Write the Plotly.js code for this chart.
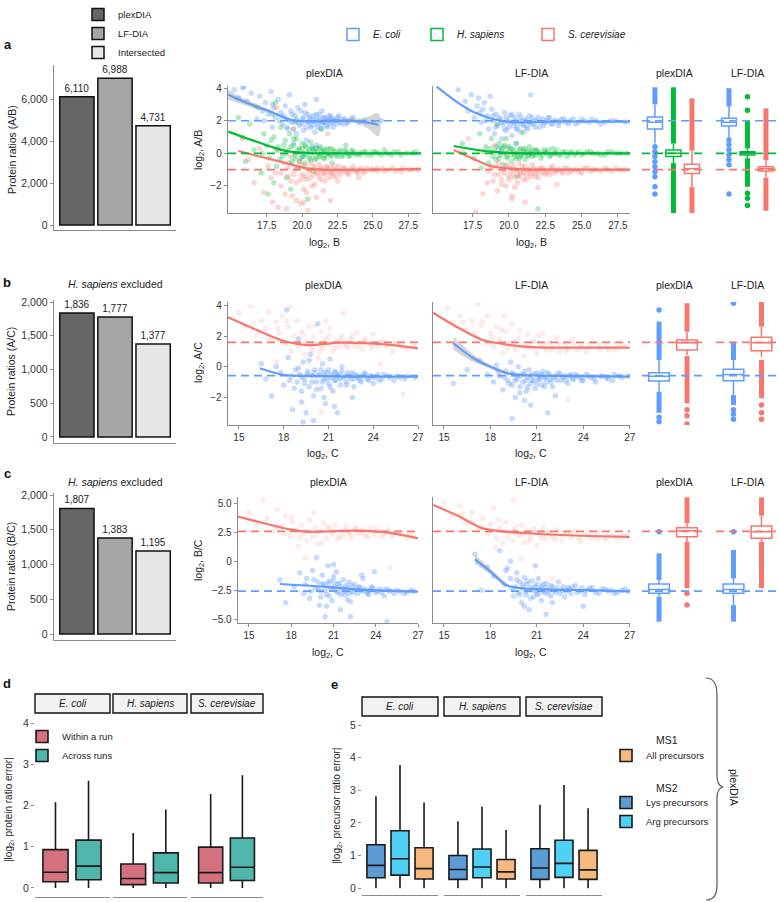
<!DOCTYPE html>
<html><head><meta charset="utf-8">
<script src="https://cdn.plot.ly/plotly-3.0.1.min.js"></script>
<style>html,body{margin:0;padding:0;background:#fff}#plot{width:779px;height:902px}</style>
</head><body><div id="plot"></div><script>
const W=779,H=902;
const X=px=>px/W, Y=py=>1-py/H;
const BLUE='#619CFF', GREEN='#00BA38', RED='#F8766D';

// ---------- bar data ----------
const barGroups=['plexDIA','LF-DIA','Intersected'];
const barColors=['#666666','#a6a6a6','#e6e6e6'];
const barsAB=[6110,6988,4731];
const barsAC=[1836,1777,1377];
const barsBC=[1807,1383,1195];

// ---------- scatter clouds [log2 intensity, log2 ratio] ----------
const aPlexEcoli=[[15.2,3.9],[15.5,3.4],[15.8,4.0],[16.1,3.2],[16.4,3.7],[16.7,2.9],[17.0,3.5],[17.2,2.6],[17.4,3.1],[17.6,2.4],[17.8,3.8],[18.0,2.8],[18.1,2.2],[18.3,3.3],[18.5,2.5],[18.6,1.8],[18.8,2.9],[18.9,2.1],[19.0,1.5],[19.2,2.6],[19.3,1.9],[19.5,2.3],[19.6,1.2],[19.7,2.8],[19.8,1.7],[20.0,2.1],[20.1,1.4],[20.2,2.5],[20.3,0.8],[20.4,1.9],[20.5,2.2],[20.6,1.6],[20.7,0.3],[20.8,2.0],[20.9,1.3],[21.0,2.4],[21.1,1.8],[21.2,2.1],[21.3,1.5],[21.4,2.6],[21.5,1.9],[21.6,2.2],[21.7,1.7],[21.8,2.0],[21.9,2.3],[22.0,1.8],[22.1,2.1],[22.2,1.6],[22.3,2.0],[22.5,2.2],[22.7,1.9],[22.9,2.1],[23.1,1.8],[23.3,2.0],[23.6,2.2],[24.0,1.9],[24.4,2.0],[25.0,1.9],[25.6,2.0],[19.4,0.6],[20.0,-0.2],[21.0,0.5],[16.8,2.1],[17.9,1.6],[19.1,3.6],[20.2,3.0],[21.0,3.3],[15.9,4.1]];
const aPlexEcoli2=[[18.7,2.3],[18.9,1.6],[19.1,2.0],[19.3,2.4],[19.4,1.5],[19.6,2.1],[19.7,1.9],[19.9,2.6],[20.0,1.8],[20.1,2.2],[20.3,1.6],[20.4,2.4],[20.5,1.9],[20.6,2.1],[20.7,1.7],[20.8,2.3],[20.9,1.9],[21.0,2.1],[21.1,1.6],[21.2,2.4],[21.3,2.0],[21.4,1.8],[21.5,2.2],[21.6,1.9],[21.7,2.1],[21.8,1.6],[21.9,2.0],[22.0,2.3],[22.1,1.9],[22.2,2.1],[22.4,1.8],[22.5,2.0],[22.6,2.3],[22.8,1.8],[23.0,2.1],[23.2,1.9],[23.5,2.1],[17.3,2.0],[17.9,3.0],[18.4,2.0]];
const aPlexHsap=[[15.5,2.2],[15.8,1.0],[16.0,-0.5],[16.3,1.8],[16.6,0.2],[16.9,2.8],[17.1,-1.2],[17.3,1.2],[17.5,0.5],[17.7,-0.3],[17.9,2.4],[18.0,1.0],[18.2,-0.8],[18.3,0.4],[18.5,1.6],[18.6,-0.2],[18.8,0.8],[18.9,-1.5],[19.0,0.2],[19.1,1.2],[19.3,-0.5],[19.4,0.5],[19.5,-0.1],[19.6,0.9],[19.7,-0.9],[19.8,0.3],[19.9,-0.3],[20.0,0.6],[20.1,0.0],[20.2,-0.6],[20.3,0.4],[20.4,0.1],[20.5,-0.3],[20.6,0.7],[20.7,-0.1],[20.8,0.2],[20.9,-0.4],[21.0,0.3],[21.1,0.0],[21.2,-0.2],[21.3,0.4],[21.4,0.1],[21.5,-0.3],[21.6,0.2],[21.7,-0.1],[21.8,0.3],[21.9,0.0],[22.0,-0.2],[22.2,0.2],[22.4,-0.1],[22.6,0.1],[22.8,-0.2],[23.0,0.2],[23.2,0.0],[23.4,-0.1],[23.6,0.1],[23.8,-0.1],[24.0,0.0],[24.3,0.1],[24.6,-0.1],[25.0,0.1],[25.4,0.0],[25.8,0.2],[26.3,-0.1],[26.8,0.1],[27.4,0.0],[28.0,0.1],[19.2,-2.2],[20.4,-2.8],[17.6,-2.5],[21.4,1.5],[18.1,3.1],[22.1,-0.6],[23.1,0.5]];
const aPlexHsap2=[[17.8,0.8],[18.2,0.2],[18.4,-0.4],[18.7,0.5],[18.9,0.0],[19.1,-0.6],[19.2,0.4],[19.4,0.9],[19.5,-0.3],[19.7,0.2],[19.8,-0.5],[20.0,0.3],[20.1,-0.2],[20.2,0.5],[20.3,-0.1],[20.5,0.2],[20.6,-0.4],[20.7,0.4],[20.9,0.1],[21.0,-0.3],[21.2,0.3],[21.3,-0.1],[21.5,0.2],[21.6,-0.3],[21.8,0.0],[22.0,0.3],[22.1,-0.1],[22.3,0.1],[22.5,-0.2],[22.7,0.2],[22.9,-0.1],[23.1,0.1],[23.3,-0.2],[23.5,0.2],[23.7,0.0],[24.1,-0.1],[24.5,0.1],[24.9,-0.1],[25.2,0.1],[25.6,-0.1],[26.0,0.0],[26.5,0.1],[27.0,-0.1],[27.8,0.0],[18.0,-1.8],[19.5,1.9],[20.8,-1.1],[17.2,0.0]];
const aPlexScer=[[15.8,0.9],[16.2,-0.4],[16.6,-1.8],[17.0,0.3],[17.3,-2.4],[17.6,-0.8],[17.9,-3.0],[18.1,-1.2],[18.3,0.2],[18.5,-2.0],[18.7,-0.6],[18.9,-3.4],[19.0,-1.4],[19.2,-0.2],[19.3,-2.6],[19.5,-1.0],[19.6,-1.8],[19.8,-0.5],[19.9,-3.1],[20.0,-1.3],[20.1,-2.2],[20.2,-0.8],[20.3,-1.6],[20.4,-3.5],[20.5,-1.1],[20.6,-0.6],[20.7,-2.0],[20.8,-1.3],[20.9,-0.9],[21.0,-2.7],[21.1,-1.2],[21.2,-0.7],[21.3,-1.6],[21.4,-1.0],[21.5,-2.3],[21.6,-1.3],[21.7,-0.8],[21.8,-1.1],[21.9,-1.5],[22.0,-0.9],[22.1,-1.2],[22.3,-1.0],[22.4,-1.4],[22.6,-0.8],[22.8,-1.1],[23.0,-0.9],[23.2,-1.2],[23.4,-1.0],[23.6,-0.8],[23.8,-1.1],[24.0,-1.0],[24.3,-1.2],[24.6,-0.9],[25.0,-1.0],[25.3,-1.1],[25.7,-0.9],[26.1,-1.0],[26.6,-1.1],[27.1,-0.9],[27.7,-1.0],[28.2,-1.0],[22.0,-2.9],[21.8,1.2],[19.4,1.5],[18.2,2.8],[22.5,-1.7],[24.0,-1.5]];
const aPlexScer2=[[18.5,-1.2],[18.8,-2.5],[19.0,-0.9],[19.2,-1.7],[19.4,-1.3],[19.6,-2.9],[19.7,-0.9],[19.9,-1.6],[20.0,-0.7],[20.2,-1.4],[20.3,-2.4],[20.5,-1.0],[20.6,-1.5],[20.8,-0.8],[20.9,-1.9],[21.0,-1.1],[21.2,-1.4],[21.3,-0.9],[21.5,-1.2],[21.6,-1.7],[21.8,-0.9],[22.0,-1.2],[22.2,-1.4],[22.3,-0.8],[22.5,-1.1],[22.7,-1.3],[22.9,-0.9],[23.1,-1.1],[23.3,-1.3],[23.6,-1.0],[23.9,-1.2],[24.2,-0.9],[24.5,-1.1],[24.9,-1.0],[25.3,-0.9],[25.8,-1.1],[26.4,-0.9],[27.0,-1.1],[27.5,-1.0],[17.8,-1.5],[18.3,-3.3],[20.1,-3.0]];
const aLFEcoli=[[16.5,3.9],[17.0,3.2],[17.2,2.6],[17.4,3.6],[17.6,2.2],[17.8,2.9],[18.0,2.5],[18.1,1.9],[18.3,3.1],[18.5,2.3],[18.6,1.5],[18.8,2.7],[18.9,2.0],[19.0,1.2],[19.1,2.4],[19.2,1.7],[19.4,2.1],[19.5,0.9],[19.6,1.8],[19.7,2.5],[19.8,1.4],[19.9,2.0],[20.0,1.6],[20.1,2.3],[20.2,1.1],[20.3,1.9],[20.4,2.2],[20.5,1.5],[20.6,1.8],[20.7,2.4],[20.8,1.3],[20.9,2.0],[21.0,1.7],[21.2,2.1],[21.3,1.5],[21.4,1.9],[21.6,2.2],[21.7,1.8],[21.9,2.0],[22.1,1.6],[22.3,2.1],[22.5,1.9],[22.7,2.2],[22.9,1.8],[23.1,2.0],[23.4,1.7],[23.6,2.1],[23.9,1.9],[24.2,2.0],[24.6,1.8],[25.0,2.1],[25.5,1.9],[26.0,2.0],[26.6,1.9],[27.3,2.0],[28.0,1.9],[19.3,0.3],[20.5,0.6],[21.5,3.6],[18.7,3.5]];
const aLFEcoli2=[[18.4,2.0],[18.9,2.3],[19.1,1.6],[19.3,2.2],[19.5,1.9],[19.7,1.5],[19.8,2.2],[20.0,1.9],[20.2,2.4],[20.3,1.7],[20.5,2.0],[20.6,1.5],[20.8,2.2],[20.9,1.8],[21.1,2.0],[21.2,1.6],[21.4,2.3],[21.5,1.8],[21.7,2.0],[21.8,1.6],[22.0,2.2],[22.2,1.9],[22.4,1.7],[22.6,2.0],[22.8,2.2],[23.0,1.8],[23.3,2.0],[23.5,1.9],[23.8,2.1],[24.1,1.8],[24.4,2.1],[24.8,1.9],[25.2,2.0],[25.7,2.1],[26.3,1.8],[27.0,2.0],[17.9,3.4],[18.2,2.7]];
const aLFHsap=[[16.8,0.6],[17.6,-0.3],[18.0,1.2],[18.4,0.4],[18.6,-0.6],[18.8,0.9],[19.0,0.1],[19.1,-0.4],[19.3,0.6],[19.4,-0.1],[19.5,0.3],[19.6,-0.7],[19.7,0.5],[19.8,0.0],[19.9,-0.3],[20.0,0.4],[20.1,0.1],[20.2,-0.5],[20.3,0.2],[20.4,-0.2],[20.5,0.6],[20.6,0.0],[20.7,-0.3],[20.8,0.3],[20.9,-0.1],[21.0,0.2],[21.1,-0.4],[21.2,0.1],[21.3,-0.1],[21.4,0.4],[21.5,0.0],[21.6,-0.2],[21.8,0.2],[21.9,-0.1],[22.0,0.1],[22.2,-0.3],[22.4,0.2],[22.6,0.0],[22.8,-0.2],[23.0,0.3],[23.2,0.0],[23.4,-0.1],[23.7,0.1],[24.0,-0.2],[24.3,0.1],[24.6,0.0],[25.0,-0.1],[25.4,0.1],[25.8,0.0],[26.3,-0.1],[26.8,0.1],[27.4,0.0],[28.1,0.0],[19.2,1.8],[20.6,-1.4],[22.0,-3.4],[21.0,1.3]];
const aLFHsap2=[[18.3,0.1],[18.7,0.3],[18.9,-0.2],[19.1,0.4],[19.3,-0.3],[19.5,0.1],[19.6,0.4],[19.8,-0.2],[19.9,0.3],[20.1,-0.1],[20.2,0.3],[20.4,0.0],[20.5,-0.3],[20.7,0.2],[20.8,-0.2],[21.0,0.0],[21.1,0.3],[21.3,-0.2],[21.4,0.1],[21.6,0.2],[21.7,-0.1],[21.9,0.2],[22.1,0.0],[22.3,-0.1],[22.5,0.1],[22.7,0.2],[22.9,-0.1],[23.1,0.0],[23.3,0.2],[23.6,-0.1],[23.9,0.1],[24.2,0.0],[24.5,-0.1],[24.8,0.1],[25.2,0.0],[25.6,0.1],[26.1,0.0],[26.6,-0.1],[27.1,0.1],[27.7,0.0],[18.1,-0.9],[19.8,0.9]];
const aLFScer=[[16.8,0.1],[17.7,-3.6],[18.5,-1.8],[18.8,-0.8],[19.0,-1.3],[19.2,-2.3],[19.3,-0.6],[19.5,-1.6],[19.6,-1.0],[19.8,-2.0],[19.9,-0.7],[20.0,-1.4],[20.1,-1.1],[20.2,-2.6],[20.3,-0.8],[20.4,-1.5],[20.5,-1.0],[20.6,-1.8],[20.7,-0.6],[20.8,-1.2],[20.9,-1.0],[21.0,-1.6],[21.1,-0.8],[21.2,-1.3],[21.3,-1.0],[21.5,-1.4],[21.6,-0.7],[21.8,-1.2],[21.9,-1.0],[22.0,-1.5],[22.2,-0.9],[22.4,-1.2],[22.6,-1.0],[22.8,-1.3],[23.0,-0.8],[23.2,-1.1],[23.4,-1.0],[23.7,-1.2],[24.0,-0.9],[24.3,-1.1],[24.6,-1.0],[25.0,-1.2],[25.4,-0.9],[25.8,-1.0],[26.3,-1.1],[26.8,-1.0],[27.4,-0.9],[28.0,-1.0],[19.0,0.5],[17.2,0.9],[20.2,-2.8],[22.0,-2.1],[23.3,-1.9]];
const aLFScer2=[[18.6,-1.1],[18.9,-1.7],[19.1,-0.8],[19.3,-1.3],[19.5,-1.9],[19.7,-1.2],[19.8,-0.8],[20.0,-1.6],[20.1,-0.9],[20.3,-1.3],[20.4,-2.1],[20.6,-1.1],[20.7,-1.4],[20.9,-0.8],[21.0,-1.2],[21.2,-1.6],[21.4,-1.0],[21.5,-1.2],[21.7,-0.9],[21.8,-1.4],[22.0,-1.0],[22.1,-1.2],[22.3,-0.9],[22.5,-1.3],[22.7,-1.1],[22.9,-0.9],[23.1,-1.2],[23.3,-1.0],[23.6,-1.1],[23.8,-0.9],[24.1,-1.2],[24.4,-1.0],[24.8,-1.1],[25.2,-0.9],[25.6,-1.1],[26.0,-1.0],[26.6,-0.9],[27.1,-1.1],[27.7,-1.0],[18.2,-2.5],[21.1,-3.0]];

const bPlexScer=[[15.0,3.5],[15.4,2.6],[15.8,3.9],[16.2,2.1],[16.5,3.0],[16.8,2.5],[17.0,3.6],[17.2,1.8],[17.5,2.9],[17.7,2.2],[17.9,3.3],[18.1,1.5],[18.3,2.6],[18.5,1.0],[18.7,2.0],[18.9,3.0],[19.0,1.3],[19.2,2.3],[19.4,0.8],[19.5,1.7],[19.7,2.6],[19.9,1.1],[20.0,2.0],[20.2,1.5],[20.3,0.6],[20.5,2.3],[20.6,1.2],[20.8,1.8],[21.0,1.4],[21.1,2.5],[21.3,1.0],[21.5,1.7],[21.7,1.3],[21.9,2.0],[22.1,1.5],[22.3,1.2],[22.5,1.8],[22.7,1.4],[22.9,2.2],[23.1,1.6],[23.3,1.1],[23.5,1.8],[23.8,1.5],[24.0,2.1],[24.3,1.3],[24.6,1.7],[25.0,1.5],[25.3,1.0],[25.7,1.4],[26.2,1.2],[26.7,1.3],[19.0,-0.5],[20.5,-3.0],[22.0,3.5],[17.5,0.3],[21.2,-1.5],[24.5,0.2],[26.0,-1.8]];
const bPlexScer2=[[16.0,2.8],[16.9,1.9],[17.6,2.5],[18.2,3.0],[18.8,1.6],[19.3,2.1],[19.8,1.4],[20.1,2.7],[20.4,1.0],[20.7,1.6],[21.0,2.0],[21.4,1.2],[21.8,1.8],[22.2,1.4],[22.6,2.0],[23.0,1.3],[23.4,1.7],[23.9,1.2],[24.4,1.6],[24.9,1.3],[25.5,1.6],[26.0,1.3],[18.4,3.9],[20.8,3.0]];
const bPlexEcoli=[[16.5,0.2],[16.8,-0.8],[17.2,-1.9],[17.5,0.0],[17.8,-0.4],[18.0,-1.2],[18.2,3.7],[18.3,0.6],[18.5,-0.6],[18.6,-2.8],[18.8,-0.2],[18.9,-1.0],[19.0,1.8],[19.1,-0.5],[19.2,-1.6],[19.3,0.3],[19.4,-0.8],[19.5,-3.0],[19.6,-0.3],[19.7,-1.3],[19.8,0.8],[19.9,-0.6],[20.0,-1.9],[20.1,-0.2],[20.2,-1.0],[20.3,2.8],[20.4,-0.5],[20.5,-1.4],[20.6,0.2],[20.7,-0.8],[20.8,-2.4],[20.9,-0.4],[21.0,-1.1],[21.1,0.5],[21.2,-0.7],[21.3,-1.6],[21.4,-0.3],[21.5,-0.9],[21.6,-3.0],[21.7,-0.5],[21.8,-1.2],[21.9,0.0],[22.0,-0.7],[22.2,-1.0],[22.3,-0.4],[22.5,-0.8],[22.7,-1.3],[22.8,-0.5],[23.0,-0.7],[23.2,-1.0],[23.4,-0.4],[23.6,-0.8],[23.8,-0.6],[24.0,-1.1],[24.3,-0.5],[24.6,-0.8],[25.0,-0.6],[25.4,-0.9],[25.8,-0.7],[26.3,-0.6],[26.8,-0.7],[20.0,-3.5],[19.3,-3.6],[22.6,-2.0]];
const bPlexEcoli2=[[18.4,-0.9],[18.7,-1.4],[19.0,-0.1],[19.2,-0.7],[19.4,-1.1],[19.6,-0.5],[19.7,0.4],[19.9,-1.0],[20.0,-0.4],[20.2,-1.5],[20.3,-0.6],[20.5,-0.2],[20.6,-1.0],[20.7,-0.4],[20.9,-0.8],[21.0,-0.2],[21.1,-1.3],[21.2,-0.5],[21.4,-0.9],[21.5,-0.4],[21.6,-0.6],[21.8,-0.8],[21.9,-0.3],[22.1,-0.6],[22.2,-1.2],[22.4,-0.6],[22.6,-0.4],[22.7,-0.8],[22.9,-0.6],[23.1,-0.9],[23.3,-0.6],[23.5,-0.5],[23.7,-0.9],[23.9,-0.6],[24.1,-0.7],[24.4,-0.9],[24.7,-0.5],[25.1,-0.7],[25.6,-0.6],[26.1,-0.8],[19.2,-2.3],[20.7,-2.0],[21.4,-2.6]];
const bLFScer=[[15.2,3.8],[15.6,2.9],[16.0,3.3],[16.4,2.4],[16.8,3.0],[17.1,2.0],[17.4,2.7],[17.6,1.6],[17.8,3.3],[18.0,2.2],[18.2,1.3],[18.4,2.6],[18.6,1.8],[18.8,0.9],[19.0,2.3],[19.2,1.5],[19.4,2.8],[19.6,1.1],[19.8,1.9],[20.0,1.4],[20.2,0.7],[20.4,2.1],[20.6,1.2],[20.8,1.7],[21.0,0.9],[21.2,1.5],[21.4,2.2],[21.6,1.1],[21.8,1.6],[22.0,1.3],[22.3,1.9],[22.5,1.0],[22.8,1.5],[23.0,1.2],[23.3,1.8],[23.6,1.1],[23.9,1.4],[24.2,1.0],[24.6,1.6],[25.0,1.2],[25.5,1.3],[26.0,1.1],[26.5,1.4],[17.2,4.1],[20.5,-1.5],[23.0,-2.2],[18.5,-0.5]];
const bLFScer2=[[16.2,2.9],[16.9,2.2],[17.5,3.0],[18.1,1.9],[18.7,2.4],[19.1,1.2],[19.5,1.7],[19.9,2.4],[20.3,1.3],[20.7,1.6],[21.1,2.0],[21.5,1.3],[21.9,1.1],[22.4,1.5],[22.9,1.0],[23.4,1.5],[23.9,1.2],[24.4,1.3],[25.0,1.5],[25.6,1.1],[26.2,1.3],[18.9,3.3]];
const bLFEcoli=[[15.6,-1.1],[16.5,-0.2],[17.3,0.4],[17.8,-0.5],[18.2,-1.0],[18.4,0.1],[18.6,-0.6],[18.8,-1.5],[19.0,-0.3],[19.1,-0.9],[19.3,0.3],[19.4,-1.2],[19.5,-0.5],[19.6,-2.0],[19.7,-0.8],[19.8,0.0],[19.9,-1.3],[20.0,-0.6],[20.1,-1.0],[20.2,-0.3],[20.3,-1.6],[20.4,-0.7],[20.5,-0.2],[20.6,-1.1],[20.7,-0.5],[20.8,-0.9],[20.9,-1.4],[21.0,-0.4],[21.1,-0.8],[21.2,-0.6],[21.3,-1.2],[21.4,-0.3],[21.5,-0.7],[21.6,-1.0],[21.8,-0.5],[21.9,-0.8],[22.0,-1.3],[22.2,-0.6],[22.4,-0.4],[22.6,-0.9],[22.8,-0.6],[23.0,-1.1],[23.2,-0.5],[23.4,-0.8],[23.6,-0.6],[23.9,-0.9],[24.2,-0.5],[24.5,-0.7],[24.8,-1.0],[25.2,-0.6],[25.6,-0.8],[26.0,-0.5],[26.5,-0.7],[26.9,-0.6],[19.4,-3.4],[21.7,-3.0],[20.2,-2.2]];
const bLFEcoli2=[[18.5,-0.3],[18.9,-0.7],[19.2,-1.1],[19.4,-0.4],[19.6,-0.9],[19.8,-0.6],[19.9,-1.7],[20.1,-0.5],[20.3,-0.9],[20.4,-1.3],[20.6,-0.6],[20.7,-0.9],[20.9,-0.5],[21.0,-1.1],[21.2,-0.8],[21.3,-0.5],[21.5,-1.3],[21.6,-0.7],[21.7,-0.4],[21.9,-1.0],[22.1,-0.7],[22.3,-0.9],[22.5,-0.5],[22.7,-0.7],[22.9,-0.9],[23.1,-0.6],[23.3,-0.8],[23.5,-0.5],[23.8,-0.7],[24.0,-0.9],[24.3,-0.6],[24.7,-0.8],[25.1,-0.6],[25.5,-0.7],[25.9,-0.9],[26.3,-0.6],[20.6,-2.5],[22.2,-1.9]];

const cPlexScer=[[15.0,4.2],[15.5,3.2],[16.0,5.3],[16.3,3.8],[16.7,2.6],[17.0,4.5],[17.3,3.0],[17.6,3.9],[17.9,2.2],[18.1,3.4],[18.3,2.7],[18.5,1.3],[18.7,3.1],[18.9,2.4],[19.1,1.8],[19.3,3.6],[19.5,2.1],[19.7,2.9],[19.9,1.5],[20.1,2.6],[20.3,3.3],[20.5,2.0],[20.7,2.8],[20.9,2.3],[21.1,3.1],[21.3,1.9],[21.5,2.6],[21.7,2.2],[21.9,3.0],[22.1,2.5],[22.3,2.0],[22.5,2.8],[22.7,2.4],[23.0,2.7],[23.3,2.2],[23.6,2.9],[23.9,2.4],[24.2,2.6],[24.5,2.1],[24.9,2.7],[25.3,2.3],[25.7,2.5],[26.2,2.0],[26.7,2.2],[21.0,-1.2],[23.5,-2.5],[25.0,-0.5],[19.0,0.3]];
const cPlexScer2=[[16.2,3.4],[16.9,3.0],[17.5,2.4],[18.0,3.8],[18.6,2.1],[19.2,2.6],[19.8,2.3],[20.2,1.6],[20.6,3.0],[21.0,2.6],[21.4,2.1],[21.8,2.7],[22.2,2.3],[22.6,2.9],[23.1,2.4],[23.5,2.1],[24.0,2.8],[24.6,2.4],[25.1,2.1],[25.8,2.3],[26.4,2.4],[19.6,4.2]];
const cPlexEcoli=[[17.2,-1.6],[17.6,-3.6],[18.2,-2.2],[18.6,-1.0],[18.9,-2.8],[19.1,-1.5],[19.3,-3.2],[19.5,-0.8],[19.7,-2.3],[19.8,0.3],[19.9,-1.8],[20.0,-3.8],[20.1,-2.6],[20.2,-1.2],[20.3,-2.0],[20.4,-4.8],[20.5,-2.9],[20.6,-0.4],[20.7,-1.7],[20.8,-2.4],[20.9,-3.4],[21.0,-1.4],[21.1,-2.2],[21.2,-0.9],[21.3,-2.7],[21.4,-1.9],[21.5,-4.2],[21.6,-2.4],[21.7,-1.6],[21.8,-2.9],[21.9,-2.1],[22.0,-3.3],[22.1,-1.8],[22.3,-2.5],[22.5,-2.0],[22.7,-2.8],[22.9,-2.3],[23.1,-1.5],[23.3,-2.6],[23.5,-2.9],[23.7,-2.2],[24.0,-2.7],[24.3,-2.4],[24.6,-3.0],[24.9,-2.5],[25.3,-2.8],[25.7,-2.6],[26.2,-2.7],[26.7,-2.6],[22.2,-4.8],[24.8,-5.2],[23.9,-0.9]];
const cPlexEcoli2=[[19.0,-2.0],[19.4,-2.6],[19.6,-1.6],[19.9,-2.4],[20.1,-3.1],[20.2,-2.0],[20.4,-2.5],[20.6,-1.9],[20.7,-3.0],[20.9,-2.3],[21.0,-1.8],[21.2,-2.6],[21.3,-2.0],[21.5,-2.9],[21.6,-2.2],[21.8,-2.6],[22.0,-2.3],[22.1,-2.8],[22.3,-2.1],[22.4,-2.7],[22.6,-2.4],[22.8,-2.2],[23.0,-2.6],[23.2,-2.4],[23.4,-2.8],[23.6,-2.5],[23.8,-2.3],[24.1,-2.6],[24.4,-2.7],[24.7,-2.4],[25.0,-2.6],[25.5,-2.5],[26.0,-2.8],[26.5,-2.5],[20.5,-3.9],[21.0,-0.3],[22.2,-3.5],[23.0,-1.2]];
const cLFScer=[[15.0,5.1],[15.5,4.0],[16.0,4.8],[16.4,3.3],[16.8,4.2],[17.2,2.8],[17.5,3.7],[17.8,2.4],[18.0,3.2],[18.2,4.6],[18.4,2.0],[18.6,2.9],[18.8,1.5],[19.0,3.4],[19.2,2.5],[19.4,1.8],[19.6,2.9],[19.8,2.2],[20.0,3.1],[20.2,1.6],[20.4,2.6],[20.6,2.0],[20.8,2.8],[21.0,1.4],[21.2,2.3],[21.4,2.9],[21.6,1.9],[21.8,2.5],[22.0,2.1],[22.3,2.7],[22.6,1.8],[22.9,2.4],[23.2,2.0],[23.5,2.6],[23.8,1.7],[24.1,2.3],[24.5,2.0],[24.9,2.5],[25.4,1.9],[25.9,2.2],[26.4,2.0],[26.9,2.1],[20.0,0.2],[22.0,-1.5],[19.5,5.3]];
const cLFScer2=[[16.2,4.1],[16.8,3.4],[17.4,2.9],[18.0,2.6],[18.5,3.6],[19.1,2.1],[19.6,2.6],[20.1,2.3],[20.5,1.8],[20.9,2.5],[21.3,2.0],[21.7,2.4],[22.2,1.9],[22.7,2.3],[23.2,2.5],[23.7,2.0],[24.3,2.2],[24.9,1.9],[25.5,2.1],[26.1,2.0],[26.6,2.2],[18.3,1.2]];
const cLFEcoli=[[17.0,0.6],[17.4,-2.5],[17.8,-0.5],[18.2,-1.3],[18.6,0.9],[18.9,-2.0],[19.1,-0.6],[19.3,-1.5],[19.5,-3.0],[19.6,-2.2],[19.7,-1.0],[19.8,-2.7],[19.9,-1.8],[20.0,-3.6],[20.1,-2.3],[20.2,-1.4],[20.3,-2.9],[20.4,-2.0],[20.5,-4.2],[20.6,-2.5],[20.7,-1.7],[20.8,-3.1],[20.9,-2.2],[21.0,-2.8],[21.1,-1.5],[21.2,-2.4],[21.3,-3.4],[21.4,-2.0],[21.5,-2.7],[21.6,-1.9],[21.8,-2.5],[21.9,-3.0],[22.0,-2.2],[22.2,-2.7],[22.4,-1.8],[22.6,-2.5],[22.8,-3.1],[23.0,-2.3],[23.2,-2.8],[23.5,-2.1],[23.8,-2.6],[24.1,-2.9],[24.4,-2.3],[24.8,-2.7],[25.2,-2.4],[25.6,-2.6],[26.0,-2.8],[26.5,-2.5],[26.9,-2.6],[21.6,-4.6],[19.3,0.0],[20.9,-0.4]];
const cLFEcoli2=[[19.4,-2.4],[19.7,-1.6],[19.9,-2.9],[20.1,-2.0],[20.3,-2.6],[20.4,-1.7],[20.6,-3.2],[20.7,-2.3],[20.9,-2.6],[21.0,-2.0],[21.1,-2.9],[21.3,-2.2],[21.4,-2.6],[21.6,-2.3],[21.7,-2.8],[21.9,-2.1],[22.1,-2.5],[22.3,-2.3],[22.5,-2.8],[22.7,-2.2],[22.9,-2.6],[23.1,-2.4],[23.3,-2.2],[23.6,-2.7],[23.9,-2.3],[24.2,-2.5],[24.6,-2.3],[25.0,-2.8],[25.4,-2.4],[25.8,-2.5],[26.2,-2.7],[26.7,-2.4],[20.2,-3.9],[22.0,-3.6],[24.0,-3.9],[19.0,-0.8]];

// ---------- loess trends ----------
const aPlexEcoliTx=[14.78,15.6,16.8,17.74,19.15,20.57,22,23.4,24.5,25.4], aPlexEcoliTy=[3.6,3.27,2.86,2.57,2.06,1.96,2.0,2.0,1.9,1.75];
const aPlexEcoliBandLo=[3.3,3.05,2.72,2.47,1.99,1.91,1.95,1.9,1.6,1.05], aPlexEcoliBandHi=[3.9,3.49,3.0,2.67,2.13,2.01,2.05,2.1,2.2,2.45];
const aPlexHsapTx=[14.78,15.8,16.8,18.0,19.15,20.5,23,26,28.4], aPlexHsapTy=[1.33,1.0,0.71,0.35,0.1,0.02,0,0,0];
const aPlexScerTx=[15.5,16.7,18.0,19.2,20.3,21.5,23,25,27,28.4], aPlexScerTy=[0.14,-0.13,-0.41,-0.68,-0.92,-1.0,-1.02,-1.0,-0.98,-0.95];
const aLFEcoliTx=[15.02,16.4,17.54,18.69,19.84,21,23,25,28.33], aLFEcoliTy=[4.09,3.16,2.55,2.15,1.94,1.9,1.95,1.95,1.95];
const aLFHsapTx=[16.2,17.5,18.7,20,22,25,28.33], aLFHsapTy=[0.45,0.25,0.1,0.03,0,0,0];
const aLFScerTx=[16.2,17.5,18.7,19.9,21,23,25,28.33], aLFScerTy=[0.2,-0.31,-0.78,-0.92,-0.98,-1.0,-1.0,-1.0];
const bPlexScerTx=[14.27,16.2,18.0,19.6,21.8,24.75,27.0], bPlexScerTy=[3.22,2.39,1.68,1.41,1.57,1.46,1.2];
const bPlexEcoliTx=[16.4,18.0,19.6,22.9,27.0], bPlexEcoliTy=[-0.1,-0.54,-0.6,-0.65,-0.65];
const bLFScerTx=[14.3,15.8,17.5,19.3,21.0,24,27.0], bLFScerTy=[3.52,2.61,1.74,1.41,1.26,1.25,1.25];
const bLFEcoliTx=[15.6,16.9,18.0,19.1,20.2,22.3,25,27.0], bLFEcoliTy=[1.53,0.55,0.0,-0.43,-0.54,-0.6,-0.63,-0.65];
const bLFEcoliBandX=[15.6,16.9,18.0,19.1], bLFEcoliBandLo=[1.1,0.3,-0.12,-0.5], bLFEcoliBandHi=[1.95,0.8,0.12,-0.36];
const cPlexScerTx=[14.2,16.0,17.9,19.1,22.6,24.9,27.0], cPlexScerTy=[3.85,3.3,2.75,2.55,2.64,2.47,1.98];
const cPlexEcoliTx=[17.2,20.3,22.6,27.0], cPlexEcoliTy=[-1.97,-2.2,-2.43,-2.63];
const cLFScerTx=[14.3,15.8,17.5,19.0,21.2,24.4,27.0], cLFScerTy=[4.86,3.99,2.84,2.55,2.35,2.18,2.1];
const cLFEcoliTx=[17.0,18.0,19.0,20.1,22,24.4,27.0], cLFEcoliTy=[0.16,-0.9,-2.06,-2.34,-2.45,-2.5,-2.6];
const cLFEcoliBandX=[17.0,18.0,19.0], cLFEcoliBandLo=[-0.25,-1.15,-2.18], cLFEcoliBandHi=[0.55,-0.65,-1.94];

// ---------- expected ratios (dashed) ----------
const refA=[2,0,-1], refB=[1.585,-0.585], refC=[2.585,-2.585];

// ---------- box summaries (right panels) ----------
const aPlexBox={q1:[1.5,-0.2,-1.23],med:[1.9,0,-0.95],q3:[2.23,0.2,-0.67],lo:[0.6,-0.6,-2.07],hi:[3.0,0.6,0.17]};
const aPlexOutStripes=[[[3.0,4.05]],[[0.6,4.05],[-0.6,-3.66]],[[0.17,3.37],[-2.07,-3.66]]];
const aPlexOutDots=[[0.41,0.1,-0.2,-0.51,-0.82,-1.13,-1.43,-2.05,-2.5],[],[]];
const aLFBox={q1:[1.67,-0.1,-1.09],med:[1.9,0,-0.95],q3:[2.15,0.1,-0.82],lo:[0.95,-0.3,-1.5],hi:[2.87,0.3,-0.42]};
const aLFOutStripes=[[[2.87,4.0]],[[0.3,2.04],[-0.3,-2.05]],[[-0.42,2.76],[-1.5,-3.52]]];
const aLFOutDots=[[0.82,0.52,0.22,-0.08,-0.38,-0.7,-2.5],[3.47,2.65,-2.45,-2.76,-3.2],[]];
const bPlexBox={q1:[-0.93,1.09],med:[-0.62,1.57],q3:[-0.39,1.74],lo:[-1.63,0.76],hi:[0.44,2.28]};
const bPlexOutStripes=[[[0.44,2.94],[-1.63,-3.0]],[[2.28,4.14],[0.7,-2.39]]];
const bPlexOutDots=[[3.7,-3.3,-3.59],[-2.8,-3.2,-3.74]];
const bLFBox={q1:[-0.91,1.04],med:[-0.5,1.57],q3:[-0.17,1.92],lo:[-1.85,0.65],hi:[0.44,2.61]};
const bLFOutStripes=[[[0.44,1.63],[-1.85,-2.5]],[[2.61,4.24],[0.44,-2.06]]];
const bLFOutDots=[[4.14,-2.8,-3.1,-3.43],[-2.5,-3.0,-3.43]];
const cPlexBox={q1:[-2.77,2.12],med:[-2.45,2.64],q3:[-1.97,2.9],lo:[-3.06,1.69],hi:[-1.62,3.28]};
const cPlexOutStripes=[[[-1.62,0.68],[-3.06,-5.23]],[[3.28,5.52],[1.69,-2.34]]];
const cPlexOutDots=[[2.55],[-2.78,-3.79]];
const cLFBox={q1:[-2.77,1.98],med:[-2.45,2.55],q3:[-1.97,3.04],lo:[-3.79,1.69],hi:[-1.48,3.94]};
const cLFOutStripes=[[[-1.48,0.97],[-3.79,-5.23]],[[3.94,5.52],[1.69,-2.34]]];
const cLFOutDots=[[2.55],[]];

// ---------- panel d / e ----------
const species=['E. coli','H. sapiens','S. cerevisiae'];
const dWithin={q1:[0.15,0.08,0.12],med:[0.38,0.23,0.37],q3:[0.93,0.58,0.99],hi:[2.08,1.33,2.28]};
const dAcross={q1:[0.2,0.12,0.18],med:[0.53,0.37,0.5],q3:[1.16,0.85,1.21],hi:[2.6,1.9,2.73]};
const eLys={q1:[0.32,0.27,0.27],med:[0.7,0.57,0.62],q3:[1.33,1.0,1.21],hi:[2.82,2.05,2.56]};
const eArg={q1:[0.4,0.32,0.33],med:[0.9,0.65,0.76],q3:[1.76,1.2,1.47],hi:[3.78,2.5,3.16]};
const eAll={q1:[0.28,0.28,0.27],med:[0.6,0.5,0.56],q3:[1.24,0.88,1.16],hi:[2.63,1.78,2.45]};

// ======================================================
const traces=[], shapes=[], annotations=[];
const layout={width:W,height:H,margin:{l:0,r:0,t:0,b:0},paper_bgcolor:'#fff',plot_bgcolor:'rgba(0,0,0,0)',
  font:{family:'Liberation Sans, Arial, sans-serif',size:10,color:'#222'},showlegend:true,hovermode:false,boxmode:'overlay'};
const AXC='#8c8c8c';
const lineAx={showline:true,linecolor:AXC,linewidth:1.3,ticks:'outside',ticklen:3,tickwidth:1,tickcolor:AXC,tickfont:{size:10,color:'#333'}};
function ids(n){return n===1?['x','y','xaxis','yaxis']:['x'+n,'y'+n,'xaxis'+n,'yaxis'+n];}
function axes(n,x0,x1,y0,y1,xr,yr,xo,yo){
  const [xi,yi,xk,yk]=ids(n);
  layout[xk]=Object.assign({domain:[x0/W,x1/W],range:xr,anchor:yi,showgrid:false,zeroline:false,fixedrange:true},xo);
  layout[yk]=Object.assign({domain:[1-y1/H,1-y0/H],range:yr,anchor:xi,showgrid:false,zeroline:false,fixedrange:true},yo);
}
function ann(text,x,y,o){annotations.push(Object.assign({xref:'paper',yref:'paper',x:X(x),y:Y(y),text,showarrow:false,xanchor:'center',yanchor:'middle',font:{size:10.5,color:'#222'}},o||{}));}

// ---- bars ----
function bars(n,vals,legend){
  const [xi,yi]=ids(n);
  vals.forEach((v,i)=>traces.push({type:'bar',x:[i],y:[v],xaxis:xi,yaxis:yi,width:0.9,name:barGroups[i],
    marker:{color:barColors[i],line:{color:'#111',width:1.5}},texttemplate:'%{y:,}',textposition:'outside',
    textfont:{size:10,color:'#222'},cliponaxis:false,showlegend:legend,legend:'legend'}));
}
const barX={showline:true,linecolor:AXC,linewidth:1.3,showticklabels:false,ticks:''};
const barY=v=>Object.assign({},lineAx,{tickvals:v,tickformat:',',tickfont:{size:10.5,color:'#333'}});
axes(1,54,176,65,230,[-0.6,2.6],[-238,7620],barX,barY([0,2000,4000,6000]));
axes(6,54,176,300,443,[-0.6,2.6],[-89,2030],barX,barY([0,500,1000,1500,2000]));
axes(11,54,176,493,640,[-0.6,2.6],[-86,2029],barX,barY([0,500,1000,1500,2000]));
bars(1,barsAB,true);bars(6,barsAC,false);bars(11,barsBC,false);

// ---- scatter helpers ----
function cloud(n,pts,color,op){const [xi,yi]=ids(n);
  traces.push({type:'scatter',mode:'markers',x:pts.map(p=>p[0]),y:pts.map(p=>p[1]),xaxis:xi,yaxis:yi,
    marker:{color,size:5.5,opacity:op,line:{width:0}},showlegend:false});}
function trend(n,tx,ty,color){const [xi,yi]=ids(n);
  traces.push({type:'scatter',mode:'lines',x:tx,y:ty,xaxis:xi,yaxis:yi,line:{color,width:2.2,shape:'spline',smoothing:0.8},showlegend:false});}
function band(n,bx,lo,hi){const [xi,yi]=ids(n);
  traces.push({type:'scatter',mode:'lines',x:bx.concat(bx.slice().reverse()),y:lo.concat(hi.slice().reverse()),xaxis:xi,yaxis:yi,
    fill:'toself',fillcolor:'rgba(150,150,150,0.4)',line:{width:0,shape:'spline'},showlegend:false});}
function refs(n,vals,cols){const [xi,yi]=ids(n);
  vals.forEach((v,i)=>shapes.push({type:'line',xref:xi+' domain',x0:0,x1:1,yref:yi,y0:v,y1:v,line:{color:cols[i],width:1.7,dash:'8px,5px'}}));}

const sxA={tickvals:[17.5,20,22.5,25,27.5],ticktext:['17.5','20.0','22.5','25.0','27.5']};
const sxB={tickvals:[15,18,21,24,27]};
const syA={tickvals:[-2,0,2,4]};
const syC={tickvals:[-5,-2.5,0,2.5,5],ticktext:['\u22125.0','\u22122.5','0','2.5','5.0']};
const noLab={showline:true,linecolor:AXC,linewidth:1.3,ticks:'',showticklabels:false};
const hid={visible:false};
function sAx(o){return Object.assign({},lineAx,o);}

// row a
axes(2,228,421,86,213,[14.76,28.4],[-3.66,4.13],sAx(sxA),sAx(syA));
axes(3,433,630,86,213,[14.77,28.33],[-3.66,4.13],sAx(sxA),noLab);
axes(4,642,706,86,213,[0.3,3.76],[-3.66,4.13],hid,hid);
axes(5,716,778,86,213,[0.3,3.65],[-3.66,4.13],hid,hid);
// row b
axes(7,228,418,302,425,[14.27,27.0],[-3.8,4.22],sAx(sxB),sAx(syA));
axes(8,433,630,302,425,[14.29,27.02],[-3.8,4.22],sAx(sxB),noLab);
axes(9,642,706,302,425,[0.39,2.68],[-3.8,4.22],hid,hid);
axes(10,716,778,302,425,[0.375,2.59],[-3.8,4.22],hid,hid);
// row c
axes(12,238,418,497,623,[14.22,27.0],[-5.34,5.55],sAx(sxB),sAx(syC));
axes(13,433,630,497,623,[14.29,27.02],[-5.34,5.55],sAx(sxB),noLab);
axes(14,642,706,497,623,[0.39,2.68],[-5.34,5.55],hid,hid);
axes(15,716,778,497,623,[0.375,2.59],[-5.34,5.55],hid,hid);

// clouds
const OB=0.36, OG=0.3, OR=0.3, ORF=0.15;
cloud(2,aPlexEcoli.concat(aPlexEcoli2),BLUE,OB);cloud(2,aPlexHsap.concat(aPlexHsap2),GREEN,OG);cloud(2,aPlexScer.concat(aPlexScer2),RED,OR);
cloud(3,aLFEcoli.concat(aLFEcoli2),BLUE,OB);cloud(3,aLFHsap.concat(aLFHsap2),GREEN,OG);cloud(3,aLFScer.concat(aLFScer2),RED,OR);
cloud(7,bPlexScer.concat(bPlexScer2),RED,ORF);cloud(7,bPlexEcoli.concat(bPlexEcoli2),BLUE,OB);
cloud(8,bLFScer.concat(bLFScer2),RED,ORF);cloud(8,bLFEcoli.concat(bLFEcoli2),BLUE,OB);
cloud(12,cPlexScer.concat(cPlexScer2),RED,ORF);cloud(12,cPlexEcoli.concat(cPlexEcoli2),BLUE,OB);
cloud(13,cLFScer.concat(cLFScer2),RED,ORF);cloud(13,cLFEcoli.concat(cLFEcoli2),BLUE,OB);
// bands
band(2,aPlexEcoliTx,aPlexEcoliBandLo,aPlexEcoliBandHi);
band(8,bLFEcoliBandX,bLFEcoliBandLo,bLFEcoliBandHi);
band(13,cLFEcoliBandX,cLFEcoliBandLo,cLFEcoliBandHi);
// trends
trend(2,aPlexEcoliTx,aPlexEcoliTy,BLUE);trend(2,aPlexHsapTx,aPlexHsapTy,GREEN);trend(2,aPlexScerTx,aPlexScerTy,RED);
trend(3,aLFEcoliTx,aLFEcoliTy,BLUE);trend(3,aLFHsapTx,aLFHsapTy,GREEN);trend(3,aLFScerTx,aLFScerTy,RED);
trend(7,bPlexScerTx,bPlexScerTy,RED);trend(7,bPlexEcoliTx,bPlexEcoliTy,BLUE);
trend(8,bLFScerTx,bLFScerTy,RED);trend(8,bLFEcoliTx,bLFEcoliTy,BLUE);
trend(12,cPlexScerTx,cPlexScerTy,RED);trend(12,cPlexEcoliTx,cPlexEcoliTy,BLUE);
trend(13,cLFScerTx,cLFScerTy,RED);trend(13,cLFEcoliTx,cLFEcoliTy,BLUE);

// dashed refs
[2,3,4,5].forEach(n=>refs(n,refA,[BLUE,GREEN,RED]));
[7,8,9,10].forEach(n=>refs(n,refB,[RED,BLUE]));
[12,13,14,15].forEach(n=>refs(n,refC,[RED,BLUE]));

// ---- right-hand box panels ----
const speciesLegends=['legend2','legend5','legend6'];
function sBoxes(n,st,stripes,dots,cols,names,wid,legend){
  const [xi,yi]=ids(n);
  cols.forEach((c,i)=>{
    const p=i+1;
    const sx=[],sy=[];
    stripes[i].forEach(s=>{sx.push(p,p,null);sy.push(s[0],s[1],null);});
    traces.push({type:'scatter',mode:'lines',x:sx,y:sy,xaxis:xi,yaxis:yi,line:{color:c,width:5},showlegend:false});
    if(dots[i].length) traces.push({type:'scatter',mode:'markers',x:dots[i].map(()=>p),y:dots[i],xaxis:xi,yaxis:yi,marker:{color:c,size:5.5},showlegend:false});
    traces.push({type:'box',x:[p],q1:[st.q1[i]],median:[st.med[i]],q3:[st.q3[i]],lowerfence:[st.lo[i]],upperfence:[st.hi[i]],
      xaxis:xi,yaxis:yi,width:wid,whiskerwidth:0,fillcolor:'#ffffff',line:{color:c,width:1.5},boxpoints:false,
      name:'<i>'+names[i]+'</i>',showlegend:legend,legend:legend?speciesLegends[i]:'legend2'});
  });
}
sBoxes(4,aPlexBox,aPlexOutStripes,aPlexOutDots,[BLUE,GREEN,RED],species,0.82,true);
sBoxes(5,aLFBox,aLFOutStripes,aLFOutDots,[BLUE,GREEN,RED],species,0.8,false);
const sp2=['E. coli','S. cerevisiae'];
sBoxes(9,bPlexBox,bPlexOutStripes,bPlexOutDots,[BLUE,RED],sp2,0.74,false);
sBoxes(10,bLFBox,bLFOutStripes,bLFOutDots,[BLUE,RED],sp2,0.74,false);
sBoxes(14,cPlexBox,cPlexOutStripes,cPlexOutDots,[BLUE,RED],sp2,0.74,false);
sBoxes(15,cLFBox,cLFOutStripes,cLFOutDots,[BLUE,RED],sp2,0.74,false);

// ---- panel d / e ----
const facetX={showline:true,linecolor:AXC,linewidth:1.3,ticks:'',showticklabels:false};
const dFacets=[[35,110],[113,187],[191,263]], eFacets=[[362,438],[444,520],[526,602]];
dFacets.forEach((f,i)=>axes(16+i,f[0],f[1],716,897,[0.38,2.65],[-0.22,4.17],facetX,
  i===0?{showline:false,ticks:'outside',ticklen:3,tickcolor:AXC,tickvals:[0,1,2,3,4],tickfont:{size:10.5,color:'#333'}}:hid));
eFacets.forEach((f,i)=>axes(19+i,f[0],f[1],716,895,[0.42,3.58],[-0.21,5.28],facetX,
  i===0?{showline:false,ticks:'outside',ticklen:3,tickcolor:AXC,tickvals:[0,1,2,3,4,5],tickfont:{size:10.5,color:'#333'}}:hid));
function eBox(n,p,st,i,color,name,wid,legendProps){
  const [xi,yi]=ids(n);
  traces.push(Object.assign({type:'box',x:[p],q1:[st.q1[i]],median:[st.med[i]],q3:[st.q3[i]],lowerfence:[0],upperfence:[st.hi[i]],
    xaxis:xi,yaxis:yi,width:wid,whiskerwidth:0,fillcolor:color,line:{color:'#1a1a1a',width:1.6},boxpoints:false,name},legendProps));
}
species.forEach((s,i)=>{
  eBox(16+i,1,dWithin,i,'#d5707f','Within a run',0.76,{showlegend:i===0,legend:'legend3'});
  eBox(16+i,2,dAcross,i,'#4fb6ac','Across runs',0.76,{showlegend:i===0,legend:'legend3'});
  eBox(19+i,3,eAll,i,'#f5b97e','All precursors',0.75,{showlegend:i===0,legend:'legend4',legendgroup:'ms1'});
  eBox(19+i,1,eLys,i,'#5b9bd6','Lys precursors',0.75,{showlegend:i===0,legend:'legend4',legendgroup:'ms2'});
  eBox(19+i,2,eArg,i,'#4fd1f6','Arg precursors',0.75,{showlegend:i===0,legend:'legend4',legendgroup:'ms2'});
});
// strips
function strip(x0,x1,y0,y1,label){
  shapes.push({type:'rect',xref:'paper',yref:'paper',x0:X(x0),x1:X(x1),y0:Y(y1),y1:Y(y0),fillcolor:'#f2f2f2',line:{color:'#111',width:1.4},layer:'below'});
  ann('<i>'+label+'</i>',(x0+x1)/2,(y0+y1)/2,{font:{size:10,color:'#222'}});
}
dFacets.forEach((f,i)=>strip(f[0],f[1],694,713,species[i]));
eFacets.forEach((f,i)=>strip(f[0],f[1],697,716,species[i]));

// brace
const bp=(x,y)=>X(x)+','+Y(y);
shapes.push({type:'path',xref:'paper',yref:'paper',line:{color:'#555',width:1.2},
  path:'M'+bp(706,678)+' C'+bp(714,678)+' '+bp(717,684)+' '+bp(717,695)+' L'+bp(717,776)+' C'+bp(717,783)+' '+bp(719,786)+' '+bp(723,787)+
  ' C'+bp(719,788)+' '+bp(717,791)+' '+bp(717,798)+' L'+bp(717,884)+' C'+bp(717,895)+' '+bp(714,900)+' '+bp(706,900)});
ann('plexDIA',734,787,{textangle:90,font:{size:10.5,color:'#222'}});

// ---- text ----
const bold={font:{size:13,color:'#111',family:'Liberation Sans, Arial, sans-serif',weight:'bold'}};
ann('<b>a</b>',8,44,bold);ann('<b>b</b>',7,282,bold);ann('<b>c</b>',7,473,bold);ann('<b>d</b>',7,683,bold);ann('<b>e</b>',334,684,bold);
ann('Protein ratios (A/B)',12,150,{textangle:-90});
ann('Protein ratios (A/C)',11,372,{textangle:-90});
ann('Protein ratios (B/C)',11,567,{textangle:-90});
ann('<i>H. sapiens</i> excluded',115,284);
ann('<i>H. sapiens</i> excluded',115,482);
[[73,324,531],[285,323,531],[482,328,531]].forEach(r=>{ann('plexDIA',r[1],r[0]);ann('LF-DIA',r[2],r[0]);ann('plexDIA',674,r[0]);ann('LF-DIA',747,r[0]);});
ann('log<sub>2</sub>, A/B',199,150,{textangle:-90});
ann('log<sub>2</sub>, A/C',199,363,{textangle:-90});
ann('log<sub>2</sub>, B/C',199,560,{textangle:-90});
ann('log<sub>2</sub>, B',324,243);ann('log<sub>2</sub>, B',531,243);
ann('log<sub>2</sub>, C',323,454);ann('log<sub>2</sub>, C',531,454);
ann('log<sub>2</sub>, C',328,653);ann('log<sub>2</sub>, C',531,653);
ann('|log<sub>2</sub>, protein ratio error|',9,810,{textangle:-90,font:{size:10,color:'#222'}});
ann('|log<sub>2</sub>, precursor ratio error|',337,806,{textangle:-90,font:{size:10,color:'#222'}});
ann('MS1',667,740,{font:{size:10.5,color:'#222'}});
ann('MS2',667,788,{font:{size:10.5,color:'#222'}});

layout.shapes=shapes;layout.annotations=annotations;
const lg=(x,y,o)=>Object.assign({x:X(x),y:Y(y),xanchor:'left',yanchor:'top',font:{size:9.5},bgcolor:'rgba(0,0,0,0)'},o||{});
layout.legend=lg(78,0,{tracegroupgap:0,itemwidth:30});
layout.legend2=lg(333,20,{font:{size:10}});
layout.legend5=lg(417,20,{font:{size:10}});
layout.legend6=lg(528,20,{font:{size:10}});
layout.legend3=lg(22,722);
layout.legend4=lg(606,741,{traceorder:'grouped',tracegroupgap:28});

Plotly.newPlot('plot',traces,layout,{staticPlot:true,displayModeBar:false});
</script></body></html>
